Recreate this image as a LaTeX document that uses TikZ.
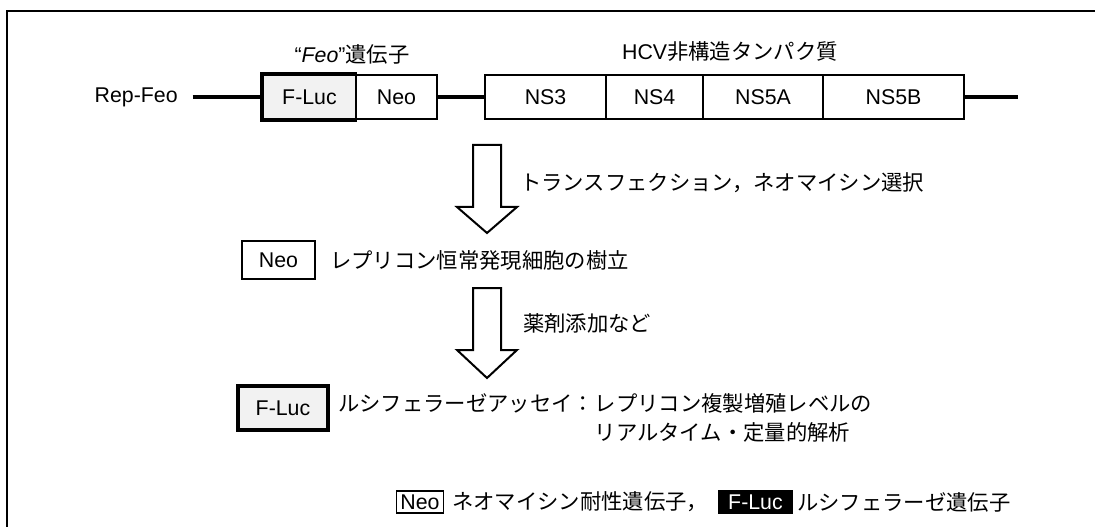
\documentclass[tikz,border=0pt]{standalone}
\usepackage{fontspec}
\setmainfont{Liberation Sans}
\newfontfamily\jp{Noto Sans CJK JP}
\begin{document}
\begin{tikzpicture}[x=0.75pt,y=-0.75pt,
  every node/.style={font=\fontsize{16pt}{19pt}\selectfont, inner sep=0pt},
  box/.style={draw, line width=1.5pt, minimum height=33pt, anchor=center},
  lucfill/.style={box, draw=none, fill=black!5},
  lucbox/.style={box, line width=2.6pt, fill=black!5},
  thickedge/.style={line width=2.6pt, line join=miter},
  darkbox/.style={draw, line width=1.2pt, fill=black, text=white, minimum height=16.5pt},
  conn/.style={line width=2.6pt},
  frame/.style={line width=1.6pt},
  blockarrow/.style={draw, line width=1.5pt, fill=white, line join=miter},
  lbl/.style={anchor=west}]
\useasboundingbox (0,0) rectangle (1095,527);
\draw[frame] (1095,11) -- (7,11) -- (7,527);

% headers
\node (hfeo) at (352,54) {“\textit{Feo}”{\jp 遺伝子}};
\node (hhcv) at (730,52) {HCV{\jp 非構造タンパク質}};

% construct row
\node[lucfill, minimum width=69.75pt] (flucA) at (309.5,97) {F-Luc};
\node[box, minimum width=60.75pt] (neoA) at (396.5,97) {Neo};
\draw[thickedge] (flucA.north east) -- (flucA.north west) -- (flucA.south west) -- (flucA.south east);
\node[box, minimum width=90.75pt] (ns3) at (545.5,97) {NS3};
\node[box, minimum width=72.75pt] (ns4) at (654.5,97) {NS4};
\node[box, minimum width=90pt] (ns5a) at (763,97) {NS5A};
\node[box, minimum width=105.75pt] (ns5b) at (893.5,97) {NS5B};
\node[anchor=east] (rep) at (178,97) {Rep-Feo};
\coordinate (endR) at (1018,97);
\draw[conn, shorten <=11pt] (rep.east) -- (flucA.west);
\draw[conn] (neoA.east) -- (ns3.west);
\draw[conn] (ns5b.east) -- (endR);

% arrow 1
\draw[blockarrow] (473,145) -- (501,145) -- (501,207) -- (517,207) -- (487,233) -- (457,207) -- (473,207) -- cycle;
\node[lbl] (t1) at (520,183) {\jp トランスフェクション，ネオマイシン選択};

% Neo row
\node[box, minimum width=54.75pt, minimum height=28.5pt] (neoB) at (278.5,260) {Neo};
\node[lbl] (estab) at (330,260) {\jp レプリコン恒常発現細胞の樹立};

% arrow 2
\draw[blockarrow] (473,288) -- (501,288) -- (501,350) -- (517,350) -- (487,378) -- (457,350) -- (473,350) -- cycle;
\node[lbl] (t2) at (523,323) {\jp 薬剤添加など};

% F-Luc row
\node[lucbox, minimum width=67.5pt] (flucB) at (283,408) {F-Luc};
\node[lbl] (assayA) at (338,403) {\jp ルシフェラーゼアッセイ：};
\node[anchor=west] (assayB) at (assayA.east) {\jp レプリコン複製増殖レベルの};
\coordinate (l2) at (0,432);
\node[anchor=west] (assayC) at (assayB.west |- l2) {\jp リアルタイム・定量的解析};

% legend
\node[box, line width=1.2pt, minimum width=35.25pt, minimum height=16.5pt] (neoL) at (420,502) {Neo};
\node[lbl] (neoLt) at (452,502) {\jp ネオマイシン耐性遺伝子，};
\node[darkbox, minimum width=54.75pt] (flucL) at (755.5,502) {F-Luc};
\node[lbl] (flucLt) at (797,502) {\jp ルシフェラーゼ遺伝子};
\end{tikzpicture}
\end{document}
